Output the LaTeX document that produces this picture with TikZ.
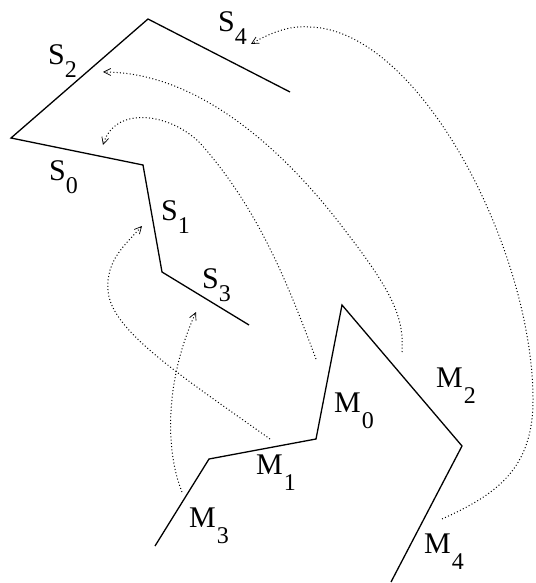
\documentclass[tikz,border=0pt]{standalone}
\usepackage{fontspec}
\setmainfont{Liberation Serif}
\usetikzlibrary{arrows.meta}
\newcommand\mainsz{\fontsize{30}{32}\selectfont}
\newcommand\subsz{\fontsize{24}{26}\selectfont}
\newcommand\Slab[1]{S\raisebox{-13pt}{\subsz #1}}
\newcommand\Mlab[1]{M\kern1pt\raisebox{-16pt}{\subsz #1}}
\begin{document}
\begin{tikzpicture}[x=1pt,y=-1pt,
  solidline/.style={line width=1.3pt,line join=miter},
  lab/.style={anchor=base west,inner sep=0pt,font=\mainsz},
  dotarrow/.style={line width=1pt,dash pattern=on 1pt off 2.3pt,
    -{Straight Barb[length=7pt,width=7pt,line width=0.7pt]}}]
\useasboundingbox (0,0) rectangle (535,583);
% S polyline
\coordinate (s4) at (290,92);
\coordinate (st) at (148,19);
\coordinate (sl) at (11,138);
\coordinate (s0) at (143,165);
\coordinate (s1) at (162,272);
\coordinate (s3) at (249,325);
\draw[solidline] (s4) -- (st) -- (sl) -- (s0) -- (s1) -- (s3);
% M polyline
\coordinate (m3) at (155,546);
\coordinate (m1) at (209,459);
\coordinate (m0) at (316,439);
\coordinate (mt) at (342,305);
\coordinate (m2) at (462,446);
\coordinate (m4) at (391,582);
\draw[solidline] (m3) -- (m1) -- (m0) -- (mt) -- (m2) -- (m4);
% labels
\node[lab] (lS4) at (218,32) {\Slab{4}};
\node[lab] (lS2) at (48,65) {\Slab{2}};
\node[lab] (lS0) at (49,180) {\Slab{0}};
\node[lab] (lS1) at (161,220) {\Slab{1}};
\node[lab] (lS3) at (202,288) {\Slab{3}};
\node[lab] (lM0) at (334,412) {\Mlab{0}};
\node[lab] (lM1) at (256,474) {\Mlab{1}};
\node[lab] (lM2) at (436,387) {\Mlab{2}};
\node[lab] (lM3) at (189,527) {\Mlab{3}};
\node[lab] (lM4) at (424,553) {\Mlab{4}};
% arrow end points
\coordinate (a4s) at (442,519); \coordinate (a4e) at (251,44);
\coordinate (a2s) at (402,352); \coordinate (a2e) at (103,72);
\coordinate (a0s) at (316,359); \coordinate (a0e) at (103,145);
\coordinate (a1s) at (270,439); \coordinate (a1e) at (142,226);
\coordinate (a3s) at (182,492); \coordinate (a3e) at (196,312);
% dotted arrows
\draw[dotarrow] (a4s) .. controls (495,495) and (533,470) .. (533,400)
  .. controls (533,250) and (420,30) .. (310,27)
  .. controls (290,25) and (270,33) .. (a4e);
\draw[dotarrow] (a2s) .. controls (404,320) and (395,295) .. (347,233)
  .. controls (300,170) and (210,72) .. (a2e);
\draw[dotarrow] (a0s) .. controls (290,290) and (260,210) .. (200,143)
  .. controls (170,113) and (115,105) .. (a0e);
\draw[dotarrow] (a1s) .. controls (180,375) and (110,330) .. (108,290)
  .. controls (106,260) and (125,245) .. (a1e);
\draw[dotarrow] (a3s) .. controls (165,450) and (165,380) .. (a3e);
\end{tikzpicture}
\end{document}
